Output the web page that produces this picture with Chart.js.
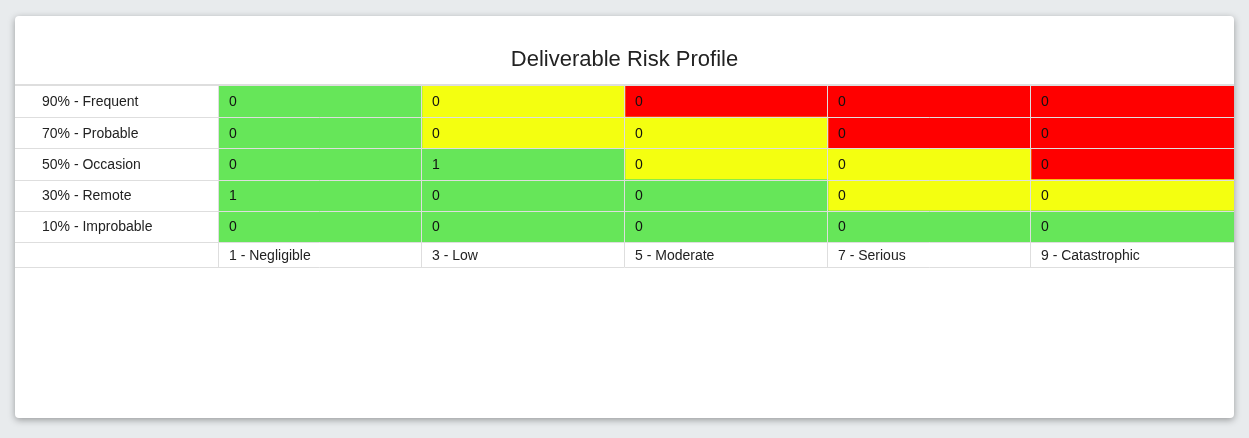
<!DOCTYPE html>
<html>
<head>
<meta charset="utf-8">
<script src="https://cdn.jsdelivr.net/npm/chart.js@4"></script>
<style>
  html, body { margin: 0; padding: 0; background: #e8ebed; }
  .card {
    position: absolute; left: 15px; top: 16px; width: 1219px; height: 402px;
    background: #fff; border-radius: 4px;
    box-shadow: 0 2px 7px rgba(0,0,0,0.35);
  }
</style>
</head>
<body>
<div class="card"><canvas id="risk"></canvas></div>
<script>
const impactLabels = ['1 - Negligible', '3 - Low', '5 - Moderate', '7 - Serious', '9 - Catastrophic']
const probabilityLabels = ['90% - Frequent', '70% - Probable', '50% - Occasion', '30% - Remote', '10% - Improbable']

// deliverable counts, rows = probability (top to bottom), cols = impact
const frequentCounts = [0, 0, 0, 0, 0]
const probableCounts = [0, 0, 0, 0, 0]
const occasionCounts = [0, 1, 0, 0, 0]
const remoteCounts = [1, 0, 0, 0, 0]
const improbableCounts = [0, 0, 0, 0, 0]
const counts = [frequentCounts, probableCounts, occasionCounts, remoteCounts, improbableCounts]

// risk level per cell: G / Y / R
const frequentRisk = ['G', 'Y', 'R', 'R', 'R']
const probableRisk = ['G', 'Y', 'Y', 'R', 'R']
const occasionRisk = ['G', 'G', 'Y', 'Y', 'R']
const remoteRisk = ['G', 'G', 'G', 'Y', 'Y']
const improbableRisk = ['G', 'G', 'G', 'G', 'G']
const risks = [frequentRisk, probableRisk, occasionRisk, remoteRisk, improbableRisk]

const riskColours = { G: '#66e659', Y: '#f4ff10', R: '#ff0000' }
const lineColour = '#dedede'
const textFont = "14px 'Liberation Sans', Arial, sans-serif"

Chart.defaults.font.family = "'Liberation Sans', Arial, sans-serif"

const datasets = impactLabels.map((impact, j) => ({
    label: impact,
    data: probabilityLabels.map(() => [j, j + 1]),
    backgroundColor: risks.map(row => riskColours[row[j]]),
    borderWidth: 0,
    grouped: false,
    barPercentage: 1,
    categoryPercentage: 1
}))

// values inside the cells + the row labels on the left
const cellText = {
    id: 'cellText',
    afterDatasetsDraw(chart) {
        const { ctx, scales: { y } } = chart
        ctx.save()
        ctx.font = textFont
        ctx.textAlign = 'left'
        ctx.textBaseline = 'middle'
        ctx.fillStyle = '#222'
        probabilityLabels.forEach((label, i) => {
            ctx.fillText(label, y.left + 27, y.getPixelForValue(i) + 1)
        })
        ctx.fillStyle = '#111'
        chart.data.datasets.forEach((ds, j) => {
            chart.getDatasetMeta(j).data.forEach((el, i) => {
                const left = Math.min(el.x, el.base)
                ctx.fillText(String(counts[i][j]), left + 10, el.y + 1)
            })
        })
        ctx.restore()
    }
}

const tableLines = {
    id: 'tableLines',
    afterDraw(chart) {
        const { ctx, scales: { x, y } } = chart
        ctx.save()
        ctx.strokeStyle = lineColour
        const rowEdges = probabilityLabels.map((l, i) => y.getPixelForValue(i - 0.5))
        rowEdges.push(y.getPixelForValue(probabilityLabels.length - 0.5))
        rowEdges.push(x.bottom)
        rowEdges.forEach((py, k) => {
            ctx.beginPath()
            if (k === 0) {
                ctx.lineWidth = 2
                ctx.moveTo(0, Math.round(py) - 1)
                ctx.lineTo(chart.width, Math.round(py) - 1)
            } else {
                ctx.lineWidth = 1
                ctx.moveTo(0, Math.round(py) + 0.5)
                ctx.lineTo(chart.width, Math.round(py) + 0.5)
            }
            ctx.stroke()
        })
        ctx.lineWidth = 1
        for (let j = 0; j < impactLabels.length; j++) {
            const px = Math.round(x.getPixelForValue(j)) - 0.5
            ctx.beginPath()
            ctx.moveTo(px, rowEdges[0])
            ctx.lineTo(px, x.bottom)
            ctx.stroke()
        }
        ctx.restore()
    }
}

new Chart(document.getElementById('risk'), {
    type: 'bar',
    data: { labels: probabilityLabels, datasets },
    options: {
        indexAxis: 'y',
        responsive: true,
        maintainAspectRatio: false,
        animation: false,
        layout: { padding: { left: 0, right: 0, top: 0, bottom: 151 } },
        plugins: {
            legend: { display: false },
            tooltip: { enabled: false },
            title: {
                display: true,
                text: 'Deliverable Risk Profile',
                color: '#222',
                font: { size: 22, weight: 'normal' },
                padding: { top: 31, bottom: 12.6 }
            }
        },
        scales: {
            x: {
                type: 'linear',
                min: 0,
                max: impactLabels.length,
                grid: { display: false, drawTicks: false },
                border: { display: false },
                afterFit: scale => { scale.height = 25 },
                afterBuildTicks: scale => {
                    scale.ticks = impactLabels.map((l, j) => ({ value: j }))
                },
                ticks: {
                    align: 'start',
                    labelOffset: 10,
                    padding: 6,
                    color: '#222',
                    font: { size: 14 },
                    maxRotation: 0,
                    autoSkip: false,
                    callback: value => impactLabels[value] ?? ''
                }
            },
            y: {
                type: 'category',
                offset: true,
                grid: { display: false, drawTicks: false },
                border: { display: false },
                afterFit: scale => { scale.width = 204 },
                ticks: { display: false }
            }
        }
    },
    plugins: [cellText, tableLines]
})
</script>
</body>
</html>
